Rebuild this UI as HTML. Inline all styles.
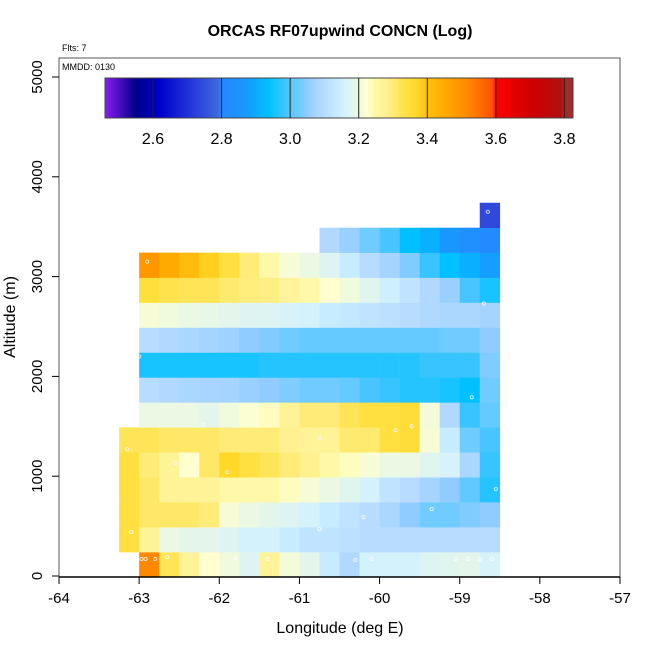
<!DOCTYPE html>
<html><head><meta charset="utf-8">
<style>
html,body{margin:0;padding:0;background:#fff;}
svg{display:block;font-family:"Liberation Sans",sans-serif;}
</style></head>
<body>
<svg id="chart" width="650" height="650" viewBox="0 0 650 650">
<text x="340" y="36" text-anchor="middle" font-size="16" font-weight="bold">ORCAS RF07upwind CONCN (Log)</text>
<text x="62" y="51" font-size="9">Flts: 7</text>
<text x="62" y="70" font-size="9">MMDD: 0130</text>
<text x="340" y="633" text-anchor="middle" font-size="16">Longitude (deg E)</text>
<text transform="translate(15,317) rotate(-90)" text-anchor="middle" font-size="16">Altitude (m)</text>
<g id="cells"></g>
<g id="pts"></g>
<g id="axes"></g>
<g id="cbar"></g>
</svg>
<script>
const xTicks=[-64,-63,-62,-61,-60,-59,-58,-57];
const yTicks=[0,1000,2000,3000,4000,5000];
const cbTicks=[2.6,2.8,3.0,3.2,3.4,3.6,3.8];
const lonCenters=[-63.125,-62.875,-62.625,-62.375,-62.125,-61.875,-61.625,-61.375,-61.125,-60.875,-60.625,-60.375,-60.125,-59.875,-59.625,-59.375,-59.125,-58.875,-58.625];
const altCenters=[115,365,615,865,1115,1365,1615,1865,2115,2365,2615,2865,3115,3365,3615];
const N=null;
const row0=[N,3.52,3.32,3.27,3.225,3.205,3.175,3.27,3.21,3.185,3.14,3.09,3.16,3.16,3.16,3.175,3.18,3.185,3.165];
const row1=[3.34,3.27,3.195,3.185,3.185,3.175,3.16,3.16,3.14,3.12,3.12,3.11,3.10,3.10,3.10,3.10,3.10,3.10,3.10];
const row2=[3.34,3.31,3.31,3.31,3.30,3.215,3.195,3.185,3.175,3.16,3.14,3.12,3.10,3.08,3.05,3.03,3.03,3.04,3.05];
const row3=[3.34,3.31,3.27,3.27,3.27,3.25,3.25,3.25,3.235,3.215,3.195,3.18,3.16,3.12,3.10,3.07,3.05,3.01,2.965];
const row4=[3.34,3.30,3.27,3.225,3.31,3.37,3.34,3.32,3.30,3.28,3.25,3.235,3.215,3.195,3.195,3.18,3.165,3.08,2.98];
const row5=[3.32,3.32,3.31,3.31,3.31,3.30,3.30,3.30,3.28,3.27,3.27,3.305,3.305,3.34,3.35,3.215,3.14,3.03,2.99];
const row6=[N,3.195,3.195,3.195,3.185,3.205,3.22,3.235,3.27,3.30,3.30,3.32,3.34,3.34,3.35,3.21,3.09,2.98,3.015];
const row7=[N,3.10,3.09,3.08,3.075,3.07,3.06,3.05,3.04,3.03,3.03,3.015,2.99,2.98,2.965,2.965,2.955,2.94,3.03];
const row8=[N,2.955,2.955,2.955,2.955,2.955,2.955,2.965,2.965,2.965,2.965,2.965,2.965,2.965,2.965,2.98,2.98,2.98,3.04];
const row9=[N,3.10,3.09,3.08,3.07,3.065,3.05,3.04,3.03,3.015,3.015,3.015,3.015,3.015,3.015,3.015,3.03,3.03,3.05];
const row10=[N,3.215,3.205,3.195,3.19,3.185,3.175,3.175,3.165,3.16,3.14,3.13,3.12,3.11,3.10,3.09,3.08,3.08,3.07];
const row11=[N,3.345,3.33,3.32,3.32,3.305,3.295,3.29,3.265,3.25,3.225,3.205,3.18,3.15,3.12,3.09,3.06,2.99,2.955];
const row12=[N,3.49,3.45,3.41,3.38,3.34,3.30,3.25,3.215,3.195,3.175,3.14,3.10,3.07,3.04,2.98,2.94,2.91,2.88];
const row13=[N,N,N,N,N,N,N,N,N,N,3.09,3.06,3.03,2.99,2.94,2.91,2.87,2.84,2.81];
const row14=[N,N,N,N,N,N,N,N,N,N,N,N,N,N,N,N,N,N,2.74];
const rows=[row0,row1,row2,row3,row4,row5,row6,row7,row8,row9,row10,row11,row12,row13,row14];
const ptLon=[-62.9,-58.65,-58.7,-63,-58.85,-62.2,-60.75,-59.8,-59.6,-63.15,-61.9,-62.55,-58.55,-60.2,-59.35,-60.75,-63.1,-62.65,-62.92,-62.97,-62.8,-61.8,-61.4,-60.3,-60.1,-59.05,-58.9,-58.75,-58.6];
const ptAlt=[3150,3650,2730,2200,1790,1520,1380,1460,1500,1270,1040,1130,870,590,670,470,440,190,170,170,170,180,170,160,170,170,170,170,170];

const X0=59,X1=620,Y0=576,Y1=77;
const xs=v=>X0+(v+64)/7*(X1-X0);
const ys=v=>Y0-(v/5000)*(Y0-Y1);
const dLon=0.25,dAlt=250;
const stops=[[2.46,'#8a1cf0'],[2.55,'#00008b'],[2.62,'#0000cd'],[2.74,'#3048dc'],[2.79,'#3a6cdc'],[2.80,'#2488ff'],[2.84,'#2090ff'],[2.87,'#1898ff'],[2.91,'#0ab0ff'],[2.94,'#00c0ff'],[2.955,'#18c4ff'],[2.98,'#38c4ff'],[2.99,'#48c4ff'],[3.0,'#5ac8ff'],[3.03,'#70ccff'],[3.05,'#90ccff'],[3.07,'#a4d4ff'],[3.10,'#b8dcff'],[3.14,'#c8ecff'],[3.16,'#d4f2fc'],[3.185,'#e4f6ec'],[3.205,'#f0fadc'],[3.225,'#ffffd0'],[3.25,'#fff8a8'],[3.28,'#fff090'],[3.30,'#ffec78'],[3.32,'#ffe458'],[3.34,'#ffe040'],[3.37,'#ffd828'],[3.40,'#ffc010'],[3.45,'#ffaa00'],[3.52,'#ff8800'],[3.59,'#ff5000'],[3.60,'#ff0000'],[3.70,'#d00000'],[3.79,'#b01010'],[3.80,'#a52a2a'],[3.83,'#a52a2a']];
function hx(h){return [1,3,5].map(i=>parseInt(h.substr(i,2),16));}
function col(v){
  if(v<=stops[0][0])return stops[0][1];
  for(let i=1;i<stops.length;i++){
    if(v<=stops[i][0]){
      const [a,ca]=stops[i-1],[b,cb]=stops[i];
      const t=(v-a)/(b-a),p=hx(ca),q=hx(cb);
      return 'rgb('+p.map((c,j)=>Math.round(c+(q[j]-c)*t)).join(',')+')';
    }
  }
  return stops[stops.length-1][1];
}
const NS='http://www.w3.org/2000/svg';
function mk(tag,attrs,parent){const e=document.createElementNS(NS,tag);for(const k in attrs)e.setAttribute(k,attrs[k]);parent.appendChild(e);return e;}

const gC=document.getElementById('cells');
rows.forEach((r,i)=>{r.forEach((v,k)=>{
  if(v===null)return;
  const x=xs(lonCenters[k]-dLon/2),x2=xs(lonCenters[k]+dLon/2);
  const y=ys(altCenters[i]+dAlt/2),y2=ys(altCenters[i]-dAlt/2);
  const e=mk('rect',{x:x,y:y,width:x2-x+0.3,height:y2-y+0.3,fill:col(v)},gC);
  
  
});});

const gP=document.getElementById('pts');
ptLon.forEach((lo,i)=>{
  const e=mk('circle',{cx:xs(lo),cy:ys(ptAlt[i]),r:1.6,fill:'none',stroke:'#fff','stroke-width':0.8,opacity:0.85},gP);
  
  
});

const gA=document.getElementById('axes');
const box=mk('rect',{x:X0,y:58,width:X1-X0,height:577-58,fill:'none',stroke:'#555','stroke-width':1},gA);


mk('line',{x1:X0,y1:577,x2:X1,y2:577,stroke:'#000','stroke-width':1.5},gA);
xTicks.forEach(t=>{
  mk('line',{x1:xs(t),y1:577,x2:xs(t),y2:584,stroke:'#000'},gA);
  const e=mk('text',{x:xs(t),y:603,'text-anchor':'middle','font-size':15},gA);
  e.textContent=t;
  
  
});
yTicks.forEach(t=>{
  mk('line',{x1:X0-7,y1:ys(t),x2:X0,y2:ys(t),stroke:'#000'},gA);
  const e=mk('text',{transform:'translate(42,'+ys(t)+') rotate(-90)','text-anchor':'middle','font-size':15},gA);
  e.textContent=t;
  
  
});

const gB=document.getElementById('cbar');
const CB0=105,CB1=573,CBY=78,CBH=40,VMIN=2.46,VMAX=3.825;
const cx=v=>CB0+(v-VMIN)/(VMAX-VMIN)*(CB1-CB0);
for(let px=CB0;px<CB1;px++){
  const v=VMIN+(px-CB0+0.5)/(CB1-CB0)*(VMAX-VMIN);
  mk('rect',{x:px,y:CBY,width:1.2,height:CBH,fill:col(v)},gB);
}
mk('rect',{x:CB0,y:CBY,width:CB1-CB0,height:CBH,fill:'none',stroke:'#444','stroke-width':1},gB);
cbTicks.forEach(t=>{
  mk('line',{x1:cx(t),y1:CBY,x2:cx(t),y2:CBY+CBH,stroke:'#222','stroke-width':1},gB);
  const e=mk('text',{x:cx(t),y:144,'text-anchor':'middle','font-size':16},gB);
  e.textContent=t.toFixed(1);
  
  
});
</script>
</body></html>
